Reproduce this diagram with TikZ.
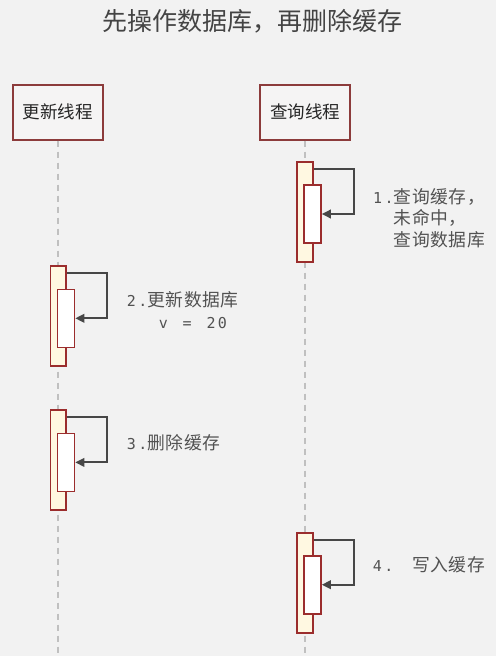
\documentclass[tikz,border=0pt]{standalone}
\usepackage{fontspec}
\usetikzlibrary{arrows.meta}
\setmainfont{Noto Sans CJK SC}
\newfontfamily\notefont[LetterSpace=3]{Noto Sans CJK SC}
\newfontfamily\notemono[LetterSpace=16,WordSpace=1.3]{DejaVu Sans Mono}
\newcommand\monotext[1]{{\notemono\fontsize{15}{21.5}\selectfont #1}}
\definecolor{bgcol}{HTML}{F2F2F2}
\definecolor{actline}{HTML}{8C3B3B}
\definecolor{actfill}{HTML}{F5F4F4}
\definecolor{lifegray}{HTML}{C0C0C0}
\definecolor{barline}{HTML}{9B2D2D}
\definecolor{barfill}{HTML}{FFF8E1}
\definecolor{msgline}{HTML}{474747}
\definecolor{notegray}{HTML}{525252}
\definecolor{titlegray}{HTML}{444444}

\begin{document}
\begin{tikzpicture}[x=1pt,y=-1pt,
        actor/.style={draw=actline,line width=2pt,fill=actfill,minimum width=90pt,minimum height=55pt,inner sep=0pt,text=black!85,font=\fontsize{17.5}{20}\selectfont},
        lifeline/.style={draw=lifegray,line width=1.6pt,dash pattern=on 6pt off 5pt},
        actbar/.style={draw=barline,line width=1.6pt,fill=barfill,minimum width=15.5pt,minimum height=100pt,inner sep=0pt},
        actsub/.style={draw=barline,line width=1.6pt,fill=white,minimum width=17pt,minimum height=58pt,inner sep=0pt},
        selfmsg/.style={draw=msgline,line width=2pt,-{Triangle[length=9pt,width=8.5pt]}},
        note/.style={anchor=west,inner sep=0pt,align=left,text=notegray,font=\notefont\fontsize{17.8}{21.5}\selectfont}]
        \fill[bgcol] (0,0) rectangle (496,656);
        \useasboundingbox (0,0) rectangle (496,656);
        \node[text=titlegray,font=\fontsize{25}{30}\selectfont] (title) at (252.5,21.5) {先操作数据库，再删除缓存};
        \node[actor] (upd) at (58,112) {更新线程};
        \node[actor] (qry) at (305,112) {查询线程};
        \coordinate (updend) at (58,656);
        \coordinate (qryend) at (305,656);
        \draw[lifeline] (upd.south) -- (updend);
        \draw[lifeline] (qry.south) -- (qryend);
        \node[actbar] (q1) at (305,212) {}; \node[actsub] (q1s) at (312.5,214) {};
        \draw[selfmsg] ([yshift=-8pt]q1.north east) -- ++(40,0) |- (q1s.east);
        \node[actbar] (u2) at (58.3,316) {}; \node[actsub] (u2s) at (66,318.3) {};
        \draw[selfmsg] ([yshift=-8pt]u2.north east) -- ++(40,0) |- (u2s.east);
        \node[actbar] (u3) at (58.3,460) {}; \node[actsub] (u3s) at (66,462.4) {};
        \draw[selfmsg] ([yshift=-8pt]u3.north east) -- ++(40,0) |- (u3s.east);
        \node[actbar] (q4) at (305,583) {}; \node[actsub] (q4s) at (312.5,584.7) {};
        \draw[selfmsg] ([yshift=-8pt]q4.north east) -- ++(40,0) |- (q4s.east);
        \node[note] (n1) at (373,218) {\monotext{1.}查询缓存，\\\hphantom{\monotext{1.}}未命中，\\\hphantom{\monotext{1.}}查询数据库};
        \node[note] (n2) at (126.7,310) {\monotext{2.}更新数据库\\[1.3pt]\monotext{\hphantom{000}v = 20}};
        \node[note] (n3) at (126.7,443) {\monotext{3.}删除缓存};
        \node[note] (n4) at (372.7,565) {\monotext{4. }写入缓存};
\end{tikzpicture}
\end{document}
